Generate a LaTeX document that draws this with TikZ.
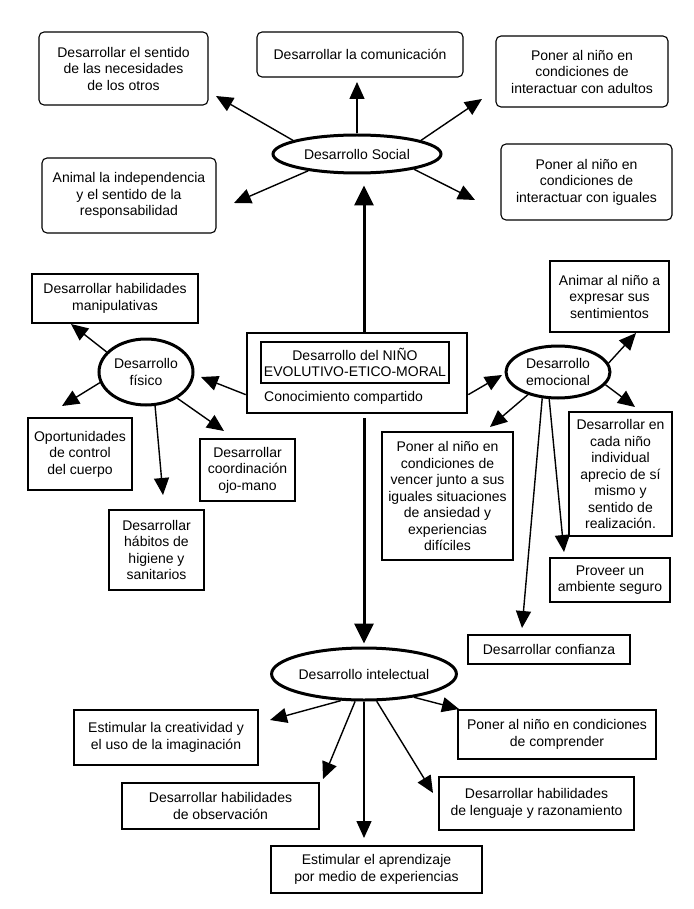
\documentclass[tikz,border=0pt]{standalone}
\usepackage{fontspec}
\setmainfont{Liberation Sans}
\usetikzlibrary{arrows.meta,shapes.geometric}

\begin{document}
\begin{tikzpicture}[x=1pt,y=-1pt,
  caja/.style={draw,line width=1.1pt,align=center,inner sep=0pt,font=\fontsize{14}{16.5}\selectfont},
  redondo/.style={caja,rounded corners=5pt},
  area/.style={ellipse,draw,line width=3pt,inner sep=0pt,align=center,font=\fontsize{14}{16.5}\selectfont},
  flecha/.style={-{Triangle[length=17pt,width=15pt]},line width=1.4pt},
  eje/.style={-{Triangle[length=20pt,width=19pt]},line width=3pt}]
\useasboundingbox (0,0) rectangle (693,909);
% centro
\node[draw,line width=2.6pt,minimum width=220pt,minimum height=80pt] (centro) at (357,373) {};
\node[caja,minimum width=188pt,minimum height=41pt] (titulo) at (355,362.5) {Desarrollo del NIÑO\\EVOLUTIVO-ETICO-MORAL};
\node[anchor=west,inner sep=0pt,font=\fontsize{14}{16.5}\selectfont] (conoc) at (264,398) {Conocimiento compartido};
% social
\node[area,minimum width=168pt,minimum height=38pt] (social) at (357,154) {Desarrollo Social};
\node[redondo,minimum width=169pt,minimum height=73pt] (sentido) at (123.5,68.5) {Desarrollar el sentido\\de las necesidades\\de los otros};
\node[redondo,minimum width=206pt,minimum height=45pt] (comunic) at (360,54.5) {Desarrollar la comunicación};
\node[redondo,minimum width=172pt,minimum height=71pt] (adultos) at (582,71.5) {Poner al niño en\\condiciones de\\interactuar con adultos};
\node[redondo,minimum width=174pt,minimum height=75pt] (animal) at (129,195.5) {Animal la independencia\\y el sentido de la\\responsabilidad};
\node[redondo,minimum width=171pt,minimum height=76pt] (iguales) at (586.5,182) {Poner al niño en\\condiciones de\\interactuar con iguales};
% fisico
\node[area,minimum width=94pt,minimum height=66pt] (fisico) at (146,372) {Desarrollo\\físico};
\node[caja,minimum width=166pt,minimum height=49pt] (manip) at (115,298.5) {Desarrollar habilidades\\manipulativas};
\node[caja,minimum width=104pt,minimum height=72pt] (oport) at (80,454) {Oportunidades\\de control\\del cuerpo};
\node[caja,minimum width=95pt,minimum height=62pt] (coord) at (247.5,470) {Desarrollar\\coordinación\\ojo-mano};
\node[caja,minimum width=95pt,minimum height=80pt] (habitos) at (156.5,550) {Desarrollar\\hábitos de\\higiene y\\sanitarios};
% emocional
\node[area,minimum width=104pt,minimum height=52pt] (emoc) at (558,372) {Desarrollo\\emocional};
\node[caja,minimum width=119pt,minimum height=71pt] (animar) at (609.5,296.5) {Animar al niño a\\expresar sus\\sentimientos};
\node[caja,minimum width=131pt,minimum height=128pt] (vencer) at (447.5,496) {Poner al niño en\\condiciones de\\vencer junto a sus\\iguales situaciones\\de ansiedad y\\experiencias\\difíciles};
\node[caja,minimum width=103pt,minimum height=124pt] (aprecio) at (620.5,474) {Desarrollar en\\cada niño\\individual\\aprecio de sí\\mismo y\\sentido de\\realización.};
\node[caja,minimum width=120pt,minimum height=44pt] (proveer) at (610,580) {Proveer un\\ambiente seguro};
\node[caja,minimum width=162pt,minimum height=29pt] (confianza) at (549,649.5) {Desarrollar confianza};
% intelectual
\node[area,minimum width=166pt,minimum height=52pt] (intel) at (364,674) {Desarrollo intelectual};
\node[caja,minimum width=184pt,minimum height=55pt] (creat) at (166,737.5) {Estimular la creatividad y\\el uso de la imaginación};
\node[caja,minimum width=198pt,minimum height=49pt] (compr) at (557,734.5) {Poner al niño en condiciones\\de comprender};
\node[caja,minimum width=197pt,minimum height=46pt] (observ) at (220.5,806) {Desarrollar habilidades\\de observación};
\node[caja,minimum width=195pt,minimum height=53pt] (leng) at (536.5,803.5) {Desarrollar habilidades\\de lenguaje y razonamiento};
\node[caja,minimum width=211pt,minimum height=47pt] (aprend) at (376.5,869.5) {Estimular el aprendizaje\\por medio de experiencias};
% puntas de flecha
\coordinate (pSentido) at (216,96);
\coordinate (pComunic) at (357,82);
\coordinate (pAdultos) at (482,99);
\coordinate (pAnimal) at (234,203);
\coordinate (pIguales) at (475,200);
\coordinate (pManip) at (71,324);
\coordinate (pOport) at (62,406);
\coordinate (pHabitos) at (163,495);
\coordinate (pCoord) at (224,431);
\coordinate (pFisico) at (201,377);
\coordinate (pEmoc) at (502,375);
\coordinate (pAnimar) at (636,333);
\coordinate (pAprecio) at (635,407);
\coordinate (pVencer) at (490,427);
\coordinate (pConfianza) at (522,628);
\coordinate (pProveer) at (564,552);
\coordinate (pCreat) at (270,720);
\coordinate (pObserv) at (323,779);
\coordinate (pAprend) at (364,838);
\coordinate (pLeng) at (433,793);
\coordinate (pCompr) at (459,709);
% ejes
\draw[eje,shorten >=11pt] (centro.north -| intel.north) -- (social.south -| intel.north);
\draw[eje,shorten <=4pt,shorten >=3pt] (centro.south -| intel.north) -- (intel.north);
% flechas
\draw[flecha] (social.168) -- (pSentido);
\draw[flecha] (social.north) -- (pComunic);
\draw[flecha] (social.12) -- (pAdultos);
\draw[flecha] (social.199) -- (pAnimal);
\draw[flecha] (social.345) -- (pIguales);
\draw[flecha] (fisico.153) -- (pManip);
\draw[flecha] (fisico.193) -- (pOport);
\draw[flecha] (fisico.285) -- (pHabitos);
\draw[flecha] (fisico.320) -- (pCoord);
\draw[flecha] (centro.191) -- (pFisico);
\draw[flecha] (centro.349) -- (pEmoc);
\draw[flecha] (emoc.10) -- (pAnimar);
\draw[flecha] (emoc.345) -- (pAprecio);
\draw[flecha] (emoc.217) -- (pVencer);
\draw[flecha] (emoc.239) -- (pConfianza);
\draw[flecha] (emoc.252) -- (pProveer);
\draw[flecha] (intel.229) -- (pCreat);
\draw[flecha] (intel.252) -- (pObserv);
\draw[flecha] (intel.south) -- (pAprend);
\draw[flecha] (intel.295) -- (pLeng);
\draw[flecha] (intel.335) -- (pCompr);
\end{tikzpicture}
\end{document}
